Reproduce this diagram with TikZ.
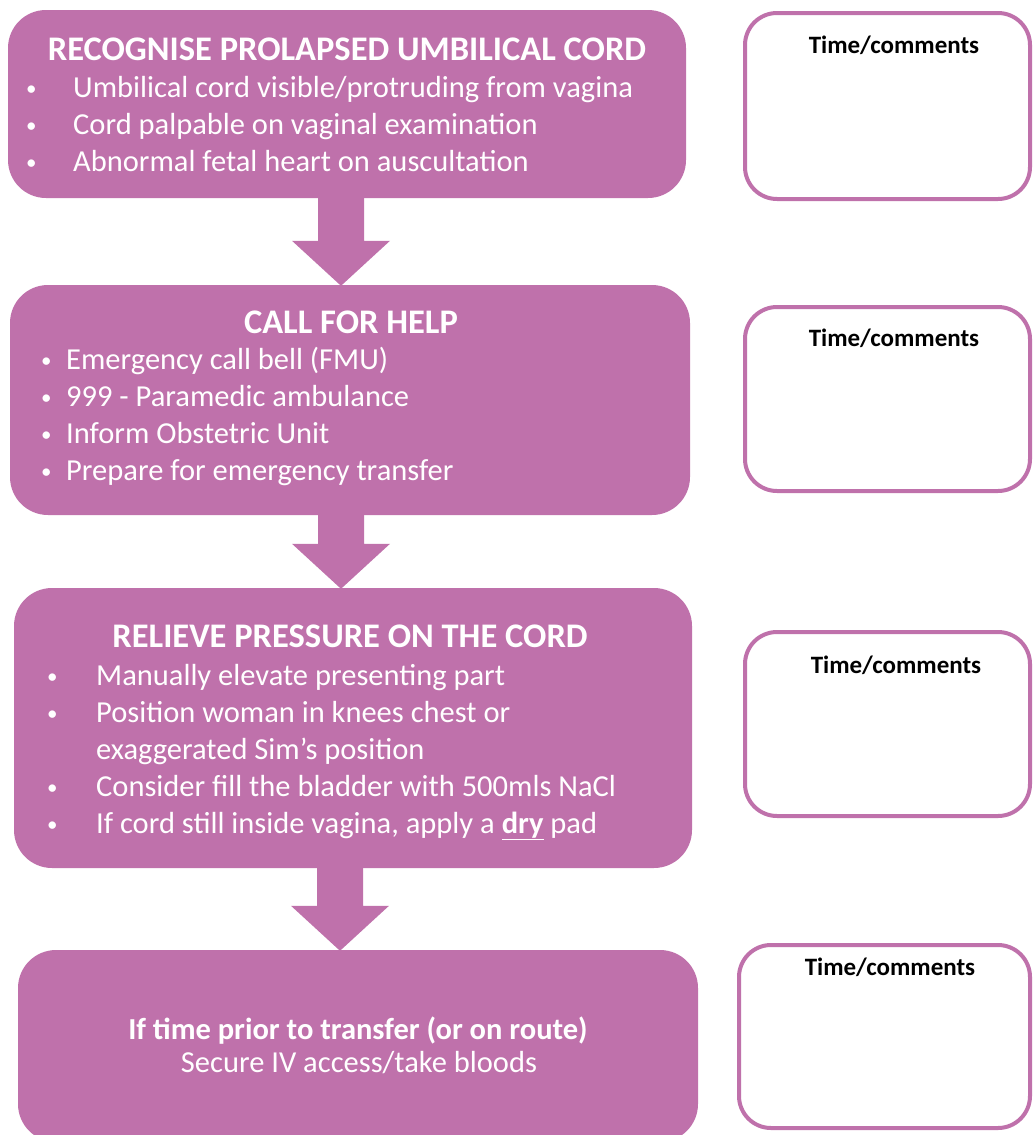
\documentclass[tikz,border=0pt]{standalone}
\usepackage{fontspec}
\setmainfont{Carlito}
\usetikzlibrary{calc}
\definecolor{pk}{RGB}{191,113,171}
\newcommand\itembullet[1]{\llap{\makebox[#1][l]{\raisebox{1.5pt}{\fontsize{21}{21}\selectfont •}}}}
\begin{document}
\begin{tikzpicture}[x=1pt,y=-1pt,
  stepbox/.style={fill=pk, rounded corners=38pt, inner sep=0pt, draw=none},
  notebox/.style={draw=pk, line width=4pt, rounded corners=32pt, fill=white, inner sep=0pt, minimum width=285pt},
  titletext/.style={text=white, font=\fontsize{34.5}{40}\selectfont\bfseries, anchor=base, inner sep=0pt},
  itemtext/.style={text=white, font=\fontsize{30.5}{37}\selectfont, anchor=base west, inner sep=0pt},
  lasttext/.style={text=white, font=\fontsize{30.5}{33}\selectfont, anchor=base, inner sep=0pt},
  notetext/.style={text=black, font=\fontsize{25}{28}\selectfont\bfseries, anchor=base, inner sep=0pt},
]
\useasboundingbox (0,0) rectangle (1033,1135);

% main step boxes
\node[stepbox, minimum width=678pt, minimum height=188pt] (b1) at (347,104) {};
\node[stepbox, minimum width=680pt, minimum height=230pt] (b2) at (350,400) {};
\node[stepbox, minimum width=678pt, minimum height=280pt] (b3) at (353,728) {};
\node[stepbox, minimum width=680pt, minimum height=192pt] (b4) at (358,1046) {};

% arrows
\path (b1.south) ++(-6,0) coordinate (a1s);
\path (b2.north) ++(-9,0) coordinate (a1e);
\path (b2.south) ++(-9,0) coordinate (a2s);
\path (b3.north) ++(-12,0) coordinate (a2e);
\path (b3.south) ++(-13,0) coordinate (a3s);
\path (b4.north) ++(-18,0) coordinate (a3e);
\foreach \s/\e in {a1s/a1e, a2s/a2e, a3s/a3e}{
  \fill[pk] ($(\s)+(-23,-3)$) -- ($(\s)+(23,-3)$) -- ($(\e)+(23,-44)$) -- ($(\e)+(49,-44)$)
     -- ($(\e)+(0,1)$) -- ($(\e)+(-49,-44)$) -- ($(\e)+(-23,-44)$) -- cycle;
}

% box 1 text
\node[titletext] (t1) at (347,60) {RECOGNISE PROLAPSED UMBILICAL CORD};
\node[itemtext] (i11) at (73,97) {\itembullet{47pt}Umbilical cord visible/protruding from vagina};
\node[itemtext] (i12) at (73,134) {\itembullet{47pt}Cord palpable on vaginal examination};
\node[itemtext] (i13) at (73,171) {\itembullet{47pt}Abnormal fetal heart on auscultation};

% box 2 text
\node[titletext] (t2) at (351,333) {CALL FOR HELP};
\node[itemtext] (i21) at (66,369) {\itembullet{25pt}Emergency call bell (FMU)};
\node[itemtext] (i22) at (66,406) {\itembullet{25pt}999 - Paramedic ambulance};
\node[itemtext] (i23) at (66,443) {\itembullet{25pt}Inform Obstetric Unit};
\node[itemtext] (i24) at (66,480) {\itembullet{25pt}Prepare for emergency transfer};

% box 3 text
\node[titletext] (t3) at (350,647) {RELIEVE PRESSURE ON THE CORD};
\node[itemtext] (i31) at (96,685) {\itembullet{49pt}Manually elevate presenting part};
\node[itemtext] (i32) at (96,722) {\itembullet{49pt}Position woman in knees chest or};
\node[itemtext] (i33) at (96,759) {exaggerated Sim’s position};
\node[itemtext] (i34) at (96,796) {\itembullet{49pt}Consider fill the bladder with 500mls NaCl};
\node[itemtext] (i35) at (96,833) {\itembullet{49pt}If cord still inside vagina, apply a \underline{\textbf{dry}} pad};

% box 4 text
\node[lasttext, font=\fontsize{30.5}{33}\selectfont\bfseries] (t41) at (358,1039) {If time prior to transfer (or on route)};
\node[lasttext] (t42) at (359,1072) {Secure IV access/take bloods};

% comment boxes
\node[notebox, minimum height=186pt] (n1) at (887.5,106) {};
\node[notebox, minimum height=184pt] (n2) at (887.5,399) {};
\node[notebox, minimum height=184pt] (n3) at (887.5,724) {};
\node[notebox, minimum width=291pt, minimum height=183pt] (n4) at (884.5,1036.5) {};
\node[notetext] (c1) at (894,53) {Time/comments};
\node[notetext] (c2) at (894,346) {Time/comments};
\node[notetext] (c3) at (896,673) {Time/comments};
\node[notetext] (c4) at (890,975) {Time/comments};
\end{tikzpicture}
\end{document}
